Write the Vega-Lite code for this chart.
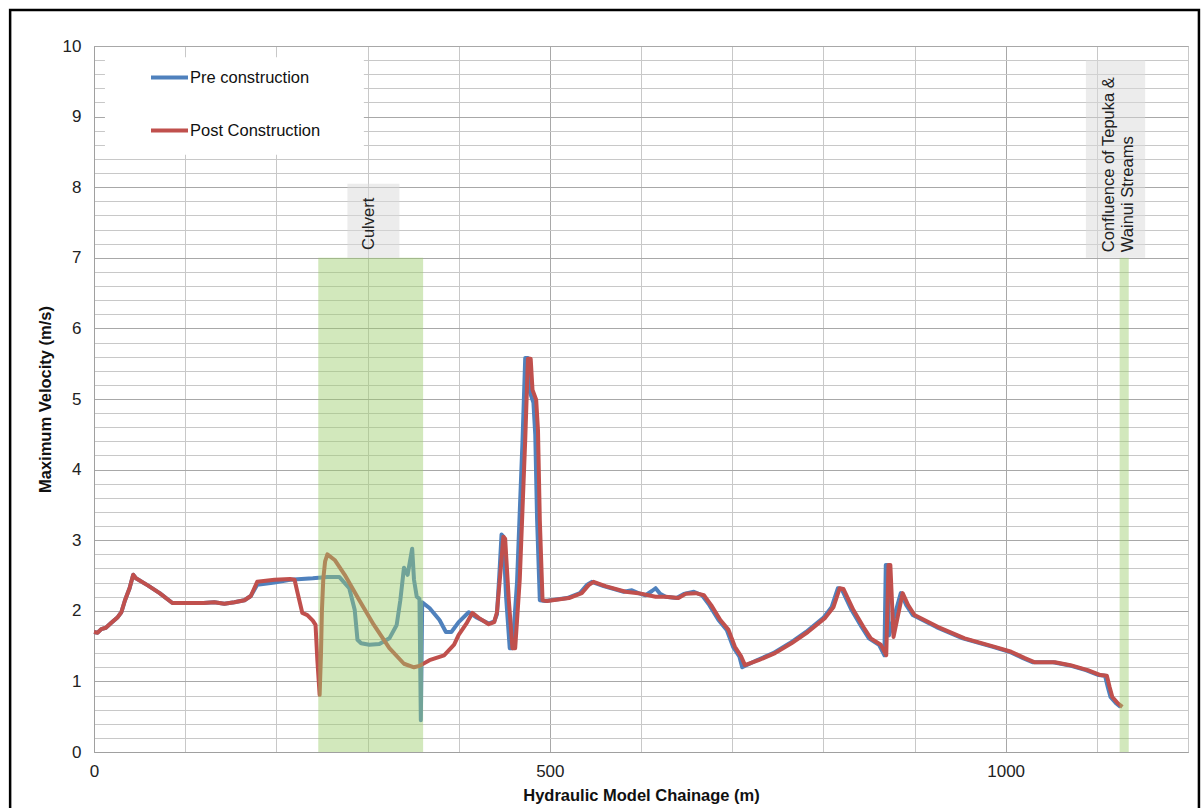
{
  "$schema": "https://vega.github.io/schema/vega-lite/v6.json",
  "autosize": {"type": "none"},
  "width": 1094,
  "height": 706,
  "padding": {"left": 94, "top": 46, "right": 15, "bottom": 56},
  "background": "white",
  "config": {
    "font": "Liberation Sans",
    "view": {"stroke": "#b0b0b0", "strokeWidth": 1},
    "axis": {"labelFont": "Liberation Sans", "titleFont": "Liberation Sans", "labelColor": "#222222", "titleColor": "#111111", "domainColor": "#a0a0a0", "ticks": false, "labelOverlap": false}
  },
  "datasets": {
    "series": [
      {"s": "Pre construction", "x": 0, "v": 1.70}, {"s": "Pre construction", "x": 4, "v": 1.69}, {"s": "Pre construction", "x": 8, "v": 1.74}, {"s": "Pre construction", "x": 13, "v": 1.76}, {"s": "Pre construction", "x": 19, "v": 1.83}, {"s": "Pre construction", "x": 26, "v": 1.91}, {"s": "Pre construction", "x": 30, "v": 1.98}, {"s": "Pre construction", "x": 34, "v": 2.15}, {"s": "Pre construction", "x": 39, "v": 2.32}, {"s": "Pre construction", "x": 43, "v": 2.51}, {"s": "Pre construction", "x": 46, "v": 2.46}, {"s": "Pre construction", "x": 59, "v": 2.36}, {"s": "Pre construction", "x": 72, "v": 2.25}, {"s": "Pre construction", "x": 86, "v": 2.11}, {"s": "Pre construction", "x": 103, "v": 2.11}, {"s": "Pre construction", "x": 120, "v": 2.11}, {"s": "Pre construction", "x": 132, "v": 2.12}, {"s": "Pre construction", "x": 143, "v": 2.10}, {"s": "Pre construction", "x": 154, "v": 2.12}, {"s": "Pre construction", "x": 165, "v": 2.15}, {"s": "Pre construction", "x": 172, "v": 2.21},
      {"s": "Pre construction", "x": 179, "v": 2.37}, {"s": "Pre construction", "x": 198, "v": 2.40}, {"s": "Pre construction", "x": 215, "v": 2.44}, {"s": "Pre construction", "x": 240, "v": 2.46}, {"s": "Pre construction", "x": 256, "v": 2.48}, {"s": "Pre construction", "x": 269, "v": 2.48}, {"s": "Pre construction", "x": 280, "v": 2.32}, {"s": "Pre construction", "x": 286, "v": 2.01}, {"s": "Pre construction", "x": 289, "v": 1.59}, {"s": "Pre construction", "x": 293, "v": 1.54}, {"s": "Pre construction", "x": 302, "v": 1.52}, {"s": "Pre construction", "x": 313, "v": 1.53}, {"s": "Pre construction", "x": 324, "v": 1.61}, {"s": "Pre construction", "x": 332, "v": 1.80}, {"s": "Pre construction", "x": 336, "v": 2.15}, {"s": "Pre construction", "x": 340, "v": 2.61}, {"s": "Pre construction", "x": 344, "v": 2.51}, {"s": "Pre construction", "x": 349, "v": 2.88}, {"s": "Pre construction", "x": 351, "v": 2.44}, {"s": "Pre construction", "x": 354, "v": 2.20}, {"s": "Pre construction", "x": 357, "v": 2.17}, {"s": "Pre construction", "x": 358.5, "v": 0.45}, {"s": "Pre construction", "x": 360, "v": 2.12}, {"s": "Pre construction", "x": 368, "v": 2.04}, {"s": "Pre construction", "x": 379, "v": 1.87}, {"s": "Pre construction", "x": 386, "v": 1.70}, {"s": "Pre construction", "x": 392, "v": 1.70}, {"s": "Pre construction", "x": 400, "v": 1.84}, {"s": "Pre construction", "x": 411, "v": 1.98}, {"s": "Pre construction", "x": 419, "v": 1.91}, {"s": "Pre construction", "x": 433, "v": 1.82}, {"s": "Pre construction", "x": 439, "v": 1.85}, {"s": "Pre construction", "x": 442, "v": 1.95}, {"s": "Pre construction", "x": 445, "v": 2.60}, {"s": "Pre construction", "x": 447, "v": 3.08}, {"s": "Pre construction", "x": 449, "v": 3.05}, {"s": "Pre construction", "x": 452, "v": 2.20}, {"s": "Pre construction", "x": 456, "v": 1.47}, {"s": "Pre construction", "x": 459, "v": 1.47}, {"s": "Pre construction", "x": 464, "v": 2.40}, {"s": "Pre construction", "x": 470, "v": 4.40}, {"s": "Pre construction", "x": 473, "v": 5.58}, {"s": "Pre construction", "x": 476, "v": 5.58}, {"s": "Pre construction", "x": 478, "v": 5.10}, {"s": "Pre construction", "x": 482, "v": 4.95}, {"s": "Pre construction", "x": 484, "v": 4.50}, {"s": "Pre construction", "x": 486, "v": 3.30}, {"s": "Pre construction", "x": 489, "v": 2.15}, {"s": "Pre construction", "x": 495, "v": 2.14},
      {"s": "Pre construction", "x": 519, "v": 2.18}, {"s": "Pre construction", "x": 533, "v": 2.25}, {"s": "Pre construction", "x": 541, "v": 2.37}, {"s": "Pre construction", "x": 546, "v": 2.41}, {"s": "Pre construction", "x": 559, "v": 2.35}, {"s": "Pre construction", "x": 581, "v": 2.27}, {"s": "Pre construction", "x": 590, "v": 2.29}, {"s": "Pre construction", "x": 597, "v": 2.25}, {"s": "Pre construction", "x": 605, "v": 2.22}, {"s": "Pre construction", "x": 612, "v": 2.28}, {"s": "Pre construction", "x": 616, "v": 2.32}, {"s": "Pre construction", "x": 621, "v": 2.24}, {"s": "Pre construction", "x": 627, "v": 2.20}, {"s": "Pre construction", "x": 639, "v": 2.18}, {"s": "Pre construction", "x": 647, "v": 2.24}, {"s": "Pre construction", "x": 658, "v": 2.27}, {"s": "Pre construction", "x": 667, "v": 2.22}, {"s": "Pre construction", "x": 675, "v": 2.08}, {"s": "Pre construction", "x": 685, "v": 1.87}, {"s": "Pre construction", "x": 694, "v": 1.73}, {"s": "Pre construction", "x": 701, "v": 1.49}, {"s": "Pre construction", "x": 708, "v": 1.35}, {"s": "Pre construction", "x": 711, "v": 1.20}, {"s": "Pre construction", "x": 727, "v": 1.30}, {"s": "Pre construction", "x": 745, "v": 1.40}, {"s": "Pre construction", "x": 763, "v": 1.54}, {"s": "Pre construction", "x": 781, "v": 1.70}, {"s": "Pre construction", "x": 800, "v": 1.90}, {"s": "Pre construction", "x": 809, "v": 2.05}, {"s": "Pre construction", "x": 816, "v": 2.32}, {"s": "Pre construction", "x": 820, "v": 2.31}, {"s": "Pre construction", "x": 831, "v": 2.01}, {"s": "Pre construction", "x": 842, "v": 1.77}, {"s": "Pre construction", "x": 850, "v": 1.61}, {"s": "Pre construction", "x": 861, "v": 1.52}, {"s": "Pre construction", "x": 867, "v": 1.37}, {"s": "Pre construction", "x": 868.5, "v": 2.65}, {"s": "Pre construction", "x": 870, "v": 2.65}, {"s": "Pre construction", "x": 872, "v": 1.65}, {"s": "Pre construction", "x": 885, "v": 2.25}, {"s": "Pre construction", "x": 891, "v": 2.08}, {"s": "Pre construction", "x": 898, "v": 1.94}, {"s": "Pre construction", "x": 924, "v": 1.77}, {"s": "Pre construction", "x": 953, "v": 1.61}, {"s": "Pre construction", "x": 986, "v": 1.49}, {"s": "Pre construction", "x": 1004, "v": 1.42}, {"s": "Pre construction", "x": 1019, "v": 1.33}, {"s": "Pre construction", "x": 1030, "v": 1.27}, {"s": "Pre construction", "x": 1052, "v": 1.27}, {"s": "Pre construction", "x": 1069, "v": 1.23}, {"s": "Pre construction", "x": 1088, "v": 1.16}, {"s": "Pre construction", "x": 1102, "v": 1.09}, {"s": "Pre construction", "x": 1109, "v": 1.08}, {"s": "Pre construction", "x": 1112, "v": 0.92}, {"s": "Pre construction", "x": 1115, "v": 0.78}, {"s": "Pre construction", "x": 1121, "v": 0.69}, {"s": "Pre construction", "x": 1126, "v": 0.64},

      {"s": "Post Construction", "x": 0, "v": 1.70}, {"s": "Post Construction", "x": 4, "v": 1.69}, {"s": "Post Construction", "x": 8, "v": 1.74}, {"s": "Post Construction", "x": 13, "v": 1.76}, {"s": "Post Construction", "x": 19, "v": 1.83}, {"s": "Post Construction", "x": 26, "v": 1.91}, {"s": "Post Construction", "x": 30, "v": 1.98}, {"s": "Post Construction", "x": 34, "v": 2.15}, {"s": "Post Construction", "x": 39, "v": 2.32}, {"s": "Post Construction", "x": 43, "v": 2.51}, {"s": "Post Construction", "x": 46, "v": 2.46}, {"s": "Post Construction", "x": 59, "v": 2.36}, {"s": "Post Construction", "x": 72, "v": 2.25}, {"s": "Post Construction", "x": 86, "v": 2.11}, {"s": "Post Construction", "x": 103, "v": 2.11}, {"s": "Post Construction", "x": 120, "v": 2.11}, {"s": "Post Construction", "x": 132, "v": 2.12}, {"s": "Post Construction", "x": 143, "v": 2.10}, {"s": "Post Construction", "x": 154, "v": 2.12}, {"s": "Post Construction", "x": 165, "v": 2.15}, {"s": "Post Construction", "x": 172, "v": 2.21}, {"s": "Post Construction", "x": 179, "v": 2.41}, {"s": "Post Construction", "x": 198, "v": 2.44}, {"s": "Post Construction", "x": 215, "v": 2.45}, {"s": "Post Construction", "x": 220, "v": 2.44}, {"s": "Post Construction", "x": 223, "v": 2.27}, {"s": "Post Construction", "x": 228.5, "v": 1.97}, {"s": "Post Construction", "x": 234, "v": 1.94}, {"s": "Post Construction", "x": 240, "v": 1.86}, {"s": "Post Construction", "x": 243, "v": 1.80}, {"s": "Post Construction", "x": 245, "v": 1.30}, {"s": "Post Construction", "x": 247.5, "v": 0.81}, {"s": "Post Construction", "x": 249, "v": 1.40}, {"s": "Post Construction", "x": 250, "v": 2.00}, {"s": "Post Construction", "x": 251.5, "v": 2.45}, {"s": "Post Construction", "x": 253.5, "v": 2.70}, {"s": "Post Construction", "x": 256, "v": 2.80}, {"s": "Post Construction", "x": 264, "v": 2.72}, {"s": "Post Construction", "x": 275, "v": 2.51}, {"s": "Post Construction", "x": 291, "v": 2.15}, {"s": "Post Construction", "x": 307, "v": 1.80}, {"s": "Post Construction", "x": 324, "v": 1.47}, {"s": "Post Construction", "x": 340, "v": 1.25}, {"s": "Post Construction", "x": 351, "v": 1.20}, {"s": "Post Construction", "x": 357, "v": 1.22}, {"s": "Post Construction", "x": 368, "v": 1.30}, {"s": "Post Construction", "x": 384, "v": 1.37}, {"s": "Post Construction", "x": 395, "v": 1.52}, {"s": "Post Construction", "x": 400, "v": 1.66}, {"s": "Post Construction", "x": 409, "v": 1.83}, {"s": "Post Construction", "x": 415, "v": 1.97}, {"s": "Post Construction", "x": 422, "v": 1.90}, {"s": "Post Construction", "x": 433, "v": 1.81}, {"s": "Post Construction", "x": 439, "v": 1.84}, {"s": "Post Construction", "x": 442, "v": 1.98}, {"s": "Post Construction", "x": 447, "v": 2.72}, {"s": "Post Construction", "x": 449, "v": 3.05}, {"s": "Post Construction", "x": 451, "v": 3.02}, {"s": "Post Construction", "x": 455, "v": 2.15}, {"s": "Post Construction", "x": 459, "v": 1.47}, {"s": "Post Construction", "x": 462, "v": 1.47}, {"s": "Post Construction", "x": 467, "v": 2.44}, {"s": "Post Construction", "x": 473, "v": 4.42}, {"s": "Post Construction", "x": 476, "v": 5.57}, {"s": "Post Construction", "x": 479, "v": 5.57}, {"s": "Post Construction", "x": 481, "v": 5.13}, {"s": "Post Construction", "x": 485, "v": 4.99}, {"s": "Post Construction", "x": 487, "v": 4.56}, {"s": "Post Construction", "x": 489, "v": 3.29}, {"s": "Post Construction", "x": 492, "v": 2.15}, {"s": "Post Construction", "x": 497, "v": 2.14}, {"s": "Post Construction", "x": 521, "v": 2.18}, {"s": "Post Construction", "x": 535, "v": 2.25}, {"s": "Post Construction", "x": 543, "v": 2.37}, {"s": "Post Construction", "x": 548, "v": 2.41}, {"s": "Post Construction", "x": 561, "v": 2.35}, {"s": "Post Construction", "x": 583, "v": 2.27}, {"s": "Post Construction", "x": 597, "v": 2.25}, {"s": "Post Construction", "x": 616, "v": 2.20}, {"s": "Post Construction", "x": 627, "v": 2.20}, {"s": "Post Construction", "x": 641, "v": 2.18}, {"s": "Post Construction", "x": 649, "v": 2.24}, {"s": "Post Construction", "x": 660, "v": 2.25}, {"s": "Post Construction", "x": 669, "v": 2.22}, {"s": "Post Construction", "x": 677, "v": 2.08}, {"s": "Post Construction", "x": 687, "v": 1.87}, {"s": "Post Construction", "x": 696, "v": 1.73}, {"s": "Post Construction", "x": 703, "v": 1.49}, {"s": "Post Construction", "x": 710, "v": 1.35}, {"s": "Post Construction", "x": 714, "v": 1.23}, {"s": "Post Construction", "x": 729, "v": 1.30}, {"s": "Post Construction", "x": 747, "v": 1.40}, {"s": "Post Construction", "x": 765, "v": 1.54}, {"s": "Post Construction", "x": 783, "v": 1.70}, {"s": "Post Construction", "x": 802, "v": 1.90}, {"s": "Post Construction", "x": 811, "v": 2.05}, {"s": "Post Construction", "x": 818, "v": 2.32}, {"s": "Post Construction", "x": 822, "v": 2.31}, {"s": "Post Construction", "x": 833, "v": 2.01}, {"s": "Post Construction", "x": 844, "v": 1.77}, {"s": "Post Construction", "x": 852, "v": 1.61}, {"s": "Post Construction", "x": 863, "v": 1.52}, {"s": "Post Construction", "x": 869, "v": 1.37}, {"s": "Post Construction", "x": 871.5, "v": 2.65}, {"s": "Post Construction", "x": 873.5, "v": 2.65}, {"s": "Post Construction", "x": 877, "v": 1.63}, {"s": "Post Construction", "x": 887, "v": 2.25}, {"s": "Post Construction", "x": 893, "v": 2.08}, {"s": "Post Construction", "x": 900, "v": 1.94}, {"s": "Post Construction", "x": 926, "v": 1.77}, {"s": "Post Construction", "x": 955, "v": 1.61}, {"s": "Post Construction", "x": 988, "v": 1.49}, {"s": "Post Construction", "x": 1006, "v": 1.42}, {"s": "Post Construction", "x": 1021, "v": 1.33}, {"s": "Post Construction", "x": 1032, "v": 1.27}, {"s": "Post Construction", "x": 1054, "v": 1.27}, {"s": "Post Construction", "x": 1071, "v": 1.23}, {"s": "Post Construction", "x": 1090, "v": 1.16}, {"s": "Post Construction", "x": 1104, "v": 1.09}, {"s": "Post Construction", "x": 1111, "v": 1.08}, {"s": "Post Construction", "x": 1114, "v": 0.92}, {"s": "Post Construction", "x": 1117, "v": 0.78}, {"s": "Post Construction", "x": 1123, "v": 0.69}, {"s": "Post Construction", "x": 1128, "v": 0.64}
    ],
    "bands": [
      {"name": "Culvert", "x1": 246, "x2": 361, "y1": 0, "y2": 7},
      {"name": "Confluence", "x1": 1125, "x2": 1135, "y1": 0, "y2": 7}
    ],
    "labelboxes": [
      {"name": "Culvert", "x1": 278, "x2": 335, "y1": 7, "y2": 8.05},
      {"name": "Confluence", "x1": 1088, "x2": 1153, "y1": 7, "y2": 9.8}
    ],
    "legendbox": [
      {"x1": 12, "x2": 296, "y1": 8.46, "y2": 9.84}
    ],
    "frame": [
      {"x1": -92, "x2": 1212, "y1": -1, "y2": 10.51}
    ],
    "culvertlabel": [
      {"t": "Culvert", "x": 302, "y": 7.48}
    ],
    "confluencelabel": [
      {"t": "Confluence of Tepuka &", "x": 1113, "y": 7.08},
      {"t": "Wainui Streams", "x": 1134, "y": 7.08}
    ]
  },
  "layer": [
    {
      "data": {"name": "legendbox"},
      "mark": {"type": "rect", "fill": "white", "stroke": null},
      "encoding": {
        "x": {"field": "x1", "type": "quantitative", "scale": {"domain": [0, 1200], "nice": false, "zero": false},
          "axis": {"values": [0, 100, 200, 300, 400, 500, 600, 700, 800, 900, 1000, 1100, 1200], "tickCount": 100, "labelExpr": "datum.value % 500 === 0 ? datum.label : ''", "labelFontSize": 17, "labelPadding": 11, "title": "Hydraulic Model Chainage (m)", "titleFontSize": 16.5, "titleFontWeight": "bold", "titlePadding": 8, "grid": true, "gridColor": {"condition": {"test": "datum.value % 500 === 0", "value": "#a8a8a8"}, "value": "#c8c8c8"}, "format": "d", "labelFlush": false}},
        "x2": {"field": "x2"},
        "y": {"field": "y1", "type": "quantitative", "scale": {"domain": [0, 10], "nice": false, "zero": false},
          "axis": {"values": [0, 0.2, 0.4, 0.6, 0.8, 1, 1.2, 1.4, 1.6, 1.8, 2, 2.2, 2.4, 2.6, 2.8, 3, 3.2, 3.4, 3.6, 3.8, 4, 4.2, 4.4, 4.6, 4.8, 5, 5.2, 5.4, 5.6, 5.8, 6, 6.2, 6.4, 6.6, 6.8, 7, 7.2, 7.4, 7.6, 7.8, 8, 8.2, 8.4, 8.6, 8.8, 9, 9.2, 9.4, 9.6, 9.8, 10], "tickCount": 100, "labelExpr": "datum.value % 1 === 0 ? format(datum.value, 'd') : ''", "labelFontSize": 17, "labelPadding": 13, "title": "Maximum Velocity (m/s)", "titleFontSize": 16.5, "titleFontWeight": "bold", "titlePadding": 9, "grid": true, "gridColor": {"condition": {"test": "datum.value % 1 === 0", "value": "#a8a8a8"}, "value": "#c8c8c8"}}},
        "y2": {"field": "y2"}
      }
    },
    {
      "data": {"name": "series"},
      "transform": [{"filter": "datum.s === 'Pre construction'"}],
      "mark": {"type": "line", "strokeWidth": 4, "strokeJoin": "round"},
      "encoding": {
        "x": {"field": "x", "type": "quantitative"},
        "y": {"field": "v", "type": "quantitative"},
        "color": {"field": "s", "type": "nominal", "scale": {"domain": ["Pre construction", "Post Construction"], "range": ["#4F81BD", "#C0504D"]},
          "legend": {"title": null, "orient": "none", "legendX": 55, "legendY": 11, "direction": "vertical", "symbolType": "stroke", "symbolSize": 1369, "symbolStrokeWidth": 4, "labelFontSize": 16.5, "labelFont": "Liberation Sans", "labelColor": "#111111", "rowPadding": 24, "labelOffset": 0}}
      }
    },
    {
      "data": {"name": "series"},
      "transform": [{"filter": "datum.s === 'Post Construction'"}],
      "mark": {"type": "line", "strokeWidth": 4, "strokeJoin": "round"},
      "encoding": {
        "x": {"field": "x", "type": "quantitative"},
        "y": {"field": "v", "type": "quantitative"},
        "color": {"field": "s", "type": "nominal"}
      }
    },
    {
      "data": {"name": "bands"},
      "mark": {"type": "rect", "fill": "#9BCB6B", "opacity": 0.45},
      "encoding": {
        "x": {"field": "x1", "type": "quantitative"},
        "x2": {"field": "x2"},
        "y": {"field": "y1", "type": "quantitative"},
        "y2": {"field": "y2"}
      }
    },
    {
      "data": {"name": "labelboxes"},
      "mark": {"type": "rect", "fill": "#d9d9d9", "opacity": 0.5},
      "encoding": {
        "x": {"field": "x1", "type": "quantitative"},
        "x2": {"field": "x2"},
        "y": {"field": "y1", "type": "quantitative"},
        "y2": {"field": "y2"}
      }
    },
    {
      "data": {"name": "culvertlabel"},
      "mark": {"type": "text", "angle": 270, "align": "center", "baseline": "middle", "fontSize": 16.5, "font": "Liberation Sans", "color": "#222222"},
      "encoding": {
        "x": {"field": "x", "type": "quantitative"},
        "y": {"field": "y", "type": "quantitative"},
        "text": {"field": "t"}
      }
    },
    {
      "data": {"name": "confluencelabel"},
      "mark": {"type": "text", "angle": 270, "align": "left", "baseline": "middle", "fontSize": 16.5, "font": "Liberation Sans", "color": "#222222"},
      "encoding": {
        "x": {"field": "x", "type": "quantitative"},
        "y": {"field": "y", "type": "quantitative"},
        "text": {"field": "t"}
      }
    },
    {
      "data": {"name": "frame"},
      "mark": {"type": "rect", "fill": null, "fillOpacity": 0, "stroke": "#000000", "strokeWidth": 2.5, "clip": false},
      "encoding": {
        "x": {"field": "x1", "type": "quantitative"},
        "x2": {"field": "x2"},
        "y": {"field": "y1", "type": "quantitative"},
        "y2": {"field": "y2"}
      }
    }
  ]
}
